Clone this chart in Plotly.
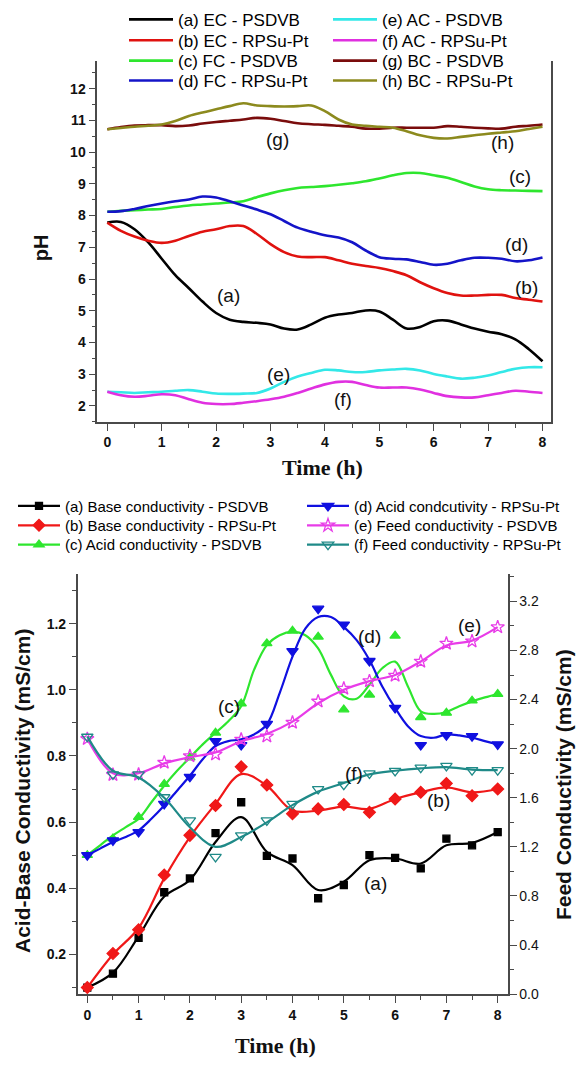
import plotly.graph_objects as go

# ---------------- pH panel ----------------
T_PH = [0, 0.25, 0.5, 0.75, 1, 1.25, 1.5, 1.75, 2, 2.25, 2.5, 2.75, 3, 3.25, 3.5, 3.75,
        4, 4.25, 4.5, 4.75, 5, 5.25, 5.5, 5.75, 6, 6.25, 6.5, 6.75, 7, 7.25, 7.5, 7.75, 8]

ph_ec_psdvb = [7.78, 7.80, 7.57, 7.16, 6.64, 6.12, 5.71, 5.29, 4.93, 4.72, 4.65, 4.62, 4.57, 4.44,
               4.41, 4.57, 4.78, 4.88, 4.93, 5.01, 4.98, 4.72, 4.44, 4.49, 4.67, 4.69, 4.57, 4.44,
               4.34, 4.26, 4.10, 3.79, 3.41]
ph_ec_rpsu = [7.78, 7.52, 7.34, 7.21, 7.14, 7.21, 7.36, 7.49, 7.57, 7.67, 7.67, 7.42, 7.10, 6.85,
              6.71, 6.69, 6.69, 6.59, 6.48, 6.41, 6.35, 6.25, 6.12, 5.90, 5.71, 5.56, 5.48, 5.48,
              5.50, 5.50, 5.40, 5.35, 5.29]
ph_fc_psdvb = [8.12, 8.15, 8.17, 8.19, 8.21, 8.27, 8.32, 8.35, 8.38, 8.41, 8.45, 8.58, 8.70, 8.80,
               8.87, 8.90, 8.93, 8.97, 9.02, 9.08, 9.17, 9.27, 9.34, 9.34, 9.27, 9.19, 9.06, 8.92,
               8.83, 8.80, 8.79, 8.78, 8.77]
ph_fc_rpsu = [8.12, 8.14, 8.21, 8.30, 8.38, 8.45, 8.51, 8.60, 8.57, 8.45, 8.32, 8.19, 8.04, 7.83,
              7.62, 7.49, 7.38, 7.31, 7.16, 6.90, 6.69, 6.64, 6.62, 6.54, 6.45, 6.48, 6.59, 6.67,
              6.67, 6.64, 6.56, 6.59, 6.68]
ph_ac_psdvb = [2.45, 2.43, 2.41, 2.43, 2.45, 2.48, 2.50, 2.45, 2.39, 2.38, 2.39, 2.41, 2.55, 2.76,
               2.93, 3.04, 3.14, 3.12, 3.07, 3.07, 3.12, 3.15, 3.17, 3.12, 3.01, 2.93, 2.86, 2.89,
               2.96, 3.07, 3.17, 3.22, 3.22]
ph_ac_rpsu = [2.45, 2.34, 2.29, 2.32, 2.37, 2.34, 2.21, 2.10, 2.06, 2.06, 2.10, 2.15, 2.21, 2.29,
              2.41, 2.55, 2.68, 2.76, 2.76, 2.66, 2.58, 2.58, 2.58, 2.52, 2.41, 2.31, 2.27, 2.27,
              2.34, 2.41, 2.48, 2.45, 2.41]
ph_bc_psdvb = [10.72, 10.79, 10.84, 10.85, 10.85, 10.82, 10.84, 10.90, 10.95, 10.99, 11.03, 11.08,
               11.05, 10.98, 10.91, 10.88, 10.86, 10.83, 10.80, 10.74, 10.74, 10.77, 10.77, 10.77,
               10.77, 10.82, 10.80, 10.77, 10.75, 10.74, 10.80, 10.83, 10.87]
ph_bc_rpsu = [10.72, 10.76, 10.80, 10.83, 10.87, 10.98, 11.14, 11.25, 11.35, 11.45, 11.54, 11.47,
              11.45, 11.44, 11.45, 11.47, 11.29, 11.03, 10.87, 10.83, 10.80, 10.77, 10.66, 10.53,
              10.45, 10.43, 10.48, 10.53, 10.58, 10.62, 10.66, 10.73, 10.80]

ph_names = ["(a) EC - PSDVB", "(b) EC - RPSu-Pt", "(c) FC - PSDVB", "(d) FC - RPSu-Pt",
            "(e) AC - PSDVB", "(f) AC - RPSu-Pt", "(g) BC - PSDVB", "(h) BC - RPSu-Pt"]
ph_series = [ph_ec_psdvb, ph_ec_rpsu, ph_fc_psdvb, ph_fc_rpsu,
             ph_ac_psdvb, ph_ac_rpsu, ph_bc_psdvb, ph_bc_rpsu]
ph_colors = ["#000000", "#e0120f", "#2ee62e", "#1414c8",
             "#33e8e8", "#e030e0", "#7a0c0c", "#8c8a1e"]

ph_tags = ["(a)", "(b)", "(c)", "(d)", "(e)", "(f)", "(g)", "(h)"]
ph_tag_x = [2.22, 7.71, 7.59, 7.53, 3.14, 4.33, 3.12, 7.27]
ph_tag_y = [5.49, 5.74, 9.22, 7.09, 2.98, 2.20, 10.41, 10.29]

# ---------------- conductivity panel ----------------
T_C = [0, 0.5, 1, 1.5, 2, 2.5, 3, 3.5, 4, 4.5, 5, 5.5, 6, 6.5, 7, 7.5, 8]
T_FINE = T_PH

# measured points
base_psdvb = [0.10, 0.142, 0.25, 0.388, 0.43, 0.567, 0.66, 0.498, 0.49, 0.37, 0.41, 0.50,
              0.492, 0.46, 0.55, 0.53, 0.57]
base_rpsu = [0.10, 0.203, 0.275, 0.44, 0.56, 0.65, 0.767, 0.712, 0.625, 0.64, 0.653, 0.63,
             0.67, 0.69, 0.717, 0.68, 0.70]
acid_psdvb = [0.50, 0.55, 0.615, 0.715, 0.795, 0.87, 0.958, 1.14, 1.178, 1.16, 0.94, 0.985,
              1.163, 0.917, 0.93, 0.967, 0.987]
acid_rpsu = [0.50, 0.545, 0.57, 0.655, 0.737, 0.845, 0.833, 0.897, 1.117, 1.245, 1.197, 1.087,
             0.945, 0.833, 0.863, 0.86, 0.835]
feed_psdvb = [2.08, 1.787, 1.79, 1.887, 1.94, 1.954, 2.075, 2.10, 2.213, 2.385, 2.49, 2.55,
              2.595, 2.71, 2.857, 2.875, 2.99]
feed_rpsu = [2.097, 1.79, 1.79, 1.604, 1.415, 1.119, 1.293, 1.415, 1.55, 1.671, 1.706, 1.798,
             1.819, 1.846, 1.86, 1.825, 1.825]

# smoothed trend curves
base_psdvb_fit = [0.10, 0.145, 0.255, 0.375, 0.425, 0.54, 0.615, 0.51, 0.47, 0.395, 0.42, 0.485,
                  0.49, 0.475, 0.53, 0.537, 0.57]
base_rpsu_fit = [0.10, 0.20, 0.28, 0.43, 0.555, 0.655, 0.745, 0.71, 0.635, 0.635, 0.647, 0.64,
                 0.67, 0.69, 0.705, 0.69, 0.70]
acid_psdvb_fit = [0.50, 0.53, 0.56, 0.585, 0.61, 0.66, 0.71, 0.755, 0.795, 0.835, 0.87, 0.905,
                  0.95, 1.06, 1.135, 1.165, 1.175, 1.165, 1.125, 1.045, 0.98, 0.973, 1.015, 1.065,
                  1.085, 1.01, 0.935, 0.927, 0.933, 0.95, 0.965, 0.977, 0.987]
acid_rpsu_fit = [0.50, 0.52, 0.54, 0.555, 0.575, 0.61, 0.65, 0.695, 0.74, 0.79, 0.83, 0.845,
                 0.85, 0.865, 0.895, 0.99, 1.10, 1.185, 1.22, 1.22, 1.19, 1.15, 1.09, 1.01, 0.945,
                 0.89, 0.86, 0.855, 0.865, 0.862, 0.855, 0.845, 0.835]
feed_psdvb_fit = [2.08, 1.80, 1.80, 1.88, 1.93, 1.97, 2.06, 2.12, 2.22, 2.37, 2.48, 2.55, 2.60,
                  2.71, 2.84, 2.88, 2.99]
feed_rpsu_fit = [2.10, 1.82, 1.765, 1.60, 1.36, 1.20, 1.28, 1.40, 1.54, 1.65, 1.72, 1.79, 1.82,
                 1.84, 1.85, 1.83, 1.825]

cond_names = ["(a) Base conductivity - PSDVB", "(b) Base conductivity - RPSu-Pt",
              "(c) Acid conductivity - PSDVB", "(d) Acid condcutivity - RPSu-Pt",
              "(e) Feed conductivity - PSDVB", "(f) Feed conductivity - RPSu-Pt"]
cond_points = [base_psdvb, base_rpsu, acid_psdvb, acid_rpsu, feed_psdvb, feed_rpsu]
cond_fits = [base_psdvb_fit, base_rpsu_fit, acid_psdvb_fit, acid_rpsu_fit,
             feed_psdvb_fit, feed_rpsu_fit]
cond_fit_t = [T_C, T_C, T_FINE, T_FINE, T_C, T_C]
cond_axis = ["y2", "y2", "y2", "y2", "y3", "y3"]
cond_colors = ["#000000", "#f01818", "#2ee62e", "#1010e0", "#e83ce8", "#1f8a88"]
cond_symbols = ["square", "diamond", "triangle-up", "triangle-down", "star-open",
                "triangle-down-open"]
cond_sizes = [7, 9, 9, 10, 10, 10]

cond_tags = ["(a)", "(b)", "(c)", "(d)", "(e)", "(f)"]
cond_tag_x = [5.61, 6.84, 2.77, 5.50, 7.46, 5.19]
cond_tag_y = [0.415, 0.665, 0.95, 1.16, 1.195, 0.747]

W, H = 587, 1067
SANS = "Liberation Sans, Arial, sans-serif"
SERIF = "Liberation Serif, Times New Roman, serif"
AX = "#4a4a4a"
TXT = "#111111"


def px(x):
    return x / W


def py(y):
    return 1 - y / H


fig = go.Figure()
legends = {}
leg_idx = [0]


def new_legend(x_left, y_mid, size, itemwidth):
    leg_idx[0] += 1
    name = "legend" if leg_idx[0] == 1 else f"legend{leg_idx[0]}"
    legends[name] = dict(
        x=px(x_left), y=py(y_mid), xanchor="left", yanchor="middle",
        orientation="v", bgcolor="rgba(0,0,0,0)", borderwidth=0,
        font=dict(family=SANS, size=size, color="#000000"), itemwidth=itemwidth,
        itemclick=False, itemdoubleclick=False,
    )
    return name


# pH curves
ph_rows = [20, 41, 61.5, 81.5]
for i, (name, vals, col) in enumerate(zip(ph_names, ph_series, ph_colors)):
    colx = 124 if i < 4 else 328
    leg = new_legend(colx, ph_rows[i % 4], 17, 44)
    fig.add_trace(go.Scatter(
        x=T_PH, y=vals, mode="lines", name=name, xaxis="x", yaxis="y",
        line=dict(color=col, width=2.6, shape="spline", smoothing=1.0), legend=leg,
    ))

# conductivity curves, points and legend entries
cond_rows = [510, 529.5, 549]
for i in range(6):
    col = cond_colors[i]
    fig.add_trace(go.Scatter(
        x=cond_fit_t[i], y=cond_fits[i], mode="lines", xaxis="x2", yaxis=cond_axis[i],
        line=dict(color=col, width=2.2, shape="spline", smoothing=1.0), showlegend=False,
        hoverinfo="skip",
    ))
    fig.add_trace(go.Scatter(
        x=T_C, y=cond_points[i], mode="markers", xaxis="x2", yaxis=cond_axis[i],
        marker=dict(symbol=cond_symbols[i], size=cond_sizes[i], color=col,
                    line=dict(color=col, width=1.3)),
        showlegend=False, name=cond_names[i],
    ))
    colx = 13 if i < 3 else 302
    leg = new_legend(colx, cond_rows[i % 3], 15, 42)
    fig.add_trace(go.Scatter(
        x=[None], y=[None], mode="lines+markers", name=cond_names[i], xaxis="x2",
        yaxis=cond_axis[i], legend=leg,
        line=dict(color=col, width=2.2),
        marker=dict(symbol=cond_symbols[i], size=cond_sizes[i], color=col,
                    line=dict(color=col, width=1.3)),
    ))

tick_font = dict(family=SANS, size=14, color=TXT, weight="bold")
common = dict(showline=True, linecolor=AX, linewidth=1.6, ticks="outside", ticklen=7,
              tickwidth=1.4, tickcolor=AX, showgrid=False, zeroline=False,
              tickfont=tick_font)

annotations = []
for tag, x, y in zip(ph_tags, ph_tag_x, ph_tag_y):
    annotations.append(dict(x=x, y=y, xref="x", yref="y", text=tag, showarrow=False,
                            xanchor="center", yanchor="middle",
                            font=dict(family=SANS, size=19, color=TXT)))
for tag, x, y in zip(cond_tags, cond_tag_x, cond_tag_y):
    annotations.append(dict(x=x, y=y, xref="x2", yref="y2", text=tag, showarrow=False,
                            xanchor="center", yanchor="middle",
                            font=dict(family=SANS, size=19, color=TXT)))


def title(x, y, text, font, angle=0):
    return dict(x=px(x), y=py(y), xref="paper", yref="paper", text=text, textangle=angle,
                xanchor="center", yanchor="middle", showarrow=False, font=font)


bold_sans = dict(family=SANS, size=21, color=TXT, weight="bold")
bold_serif = dict(family=SERIF, size=22, color=TXT, weight="bold")
annotations += [
    title(41, 250, "pH", dict(family=SANS, size=20, color=TXT, weight="bold"), -90),
    title(322, 471, "Time (h)", bold_serif),
    title(275, 1053, "Time (h)", bold_serif),
    title(22, 797, "Acid-Base Conductivity (mS/cm)", bold_sans, -90),
    title(563, 791, "Feed Conductivity (mS/cm)", bold_sans, -90),
]

fig.update_layout(
    width=W, height=H, margin=dict(l=0, r=0, t=0, b=0),
    paper_bgcolor="white", plot_bgcolor="white",
    xaxis=dict(domain=[px(97.3), px(551)], range=[-0.184, 8.156], anchor="y",
               dtick=1, tick0=0,
               minor=dict(ticks="outside", ticklen=4, dtick=0.5, tick0=0, tickcolor=AX,
                          tickwidth=1.2),
               **common),
    yaxis=dict(domain=[py(425), py(61.7)], range=[1.5, 12.865], anchor="x",
               dtick=1, tick0=0, mirror=True,
               minor=dict(ticks="outside", ticklen=4, dtick=0.5, tick0=0, tickcolor=AX,
                          tickwidth=1.2),
               **common),
    xaxis2=dict(domain=[px(77.7), px(507.7)], range=[-0.187, 8.195], anchor="y2",
                dtick=1, tick0=0,
                minor=dict(ticks="outside", ticklen=4, dtick=0.5, tick0=0, tickcolor=AX,
                           tickwidth=1.2),
                **common),
    yaxis2=dict(domain=[py(1001.7), py(578.3)], range=[0.08, 1.35], anchor="x2",
                dtick=0.2, tick0=0, tickformat=".1f",
                minor=dict(ticks="outside", ticklen=4, dtick=0.1, tick0=0, tickcolor=AX,
                           tickwidth=1.2),
                **common),
    yaxis3=dict(overlaying="y2", side="right", range=[0, 3.423], anchor="x2",
                dtick=0.4, tick0=0, tickformat=".1f",
                minor=dict(ticks="outside", ticklen=4, dtick=0.2, tick0=0, tickcolor=AX,
                           tickwidth=1.2),
                **{**common, "tickfont": dict(family=SANS, size=14, color=TXT)}),
    annotations=annotations,
    **legends,
)

fig.write_html("out.html")
